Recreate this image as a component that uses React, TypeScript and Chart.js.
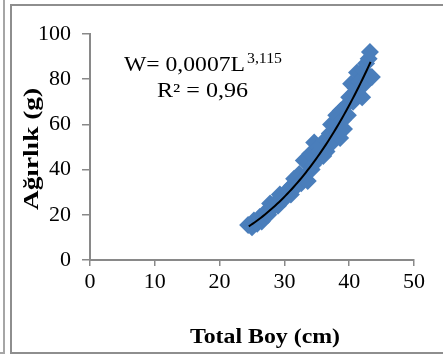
import React, { useEffect, useRef } from "react";
import { Chart, registerables } from "chart.js";

Chart.register(...registerables);

// Total length (cm) and weight (g) of the sampled fish
const lengthCm = [
  24.4, 25.0, 25.3, 25.8, 26.2, 26.5, 26.8, 27.0, 27.5, 27.8, 28.2, 28.8, 29.0,
  29.3, 29.5, 30.0, 30.5, 31.0, 31.2, 31.5, 32.0, 32.3, 32.6, 33.0, 33.0, 33.6,
  34.0, 34.2, 34.4, 34.6, 35.0, 35.2, 35.4, 35.8, 36.0, 36.2, 36.5, 36.8, 37.0,
  37.2, 37.4, 37.8, 38.0, 38.2, 38.6, 38.7, 39.0, 39.2, 39.4, 39.8, 40.0, 40.3,
  40.6, 40.8, 41.0, 41.2, 41.5, 41.8, 42.0, 42.2, 42.4, 42.6, 43.0, 43.2, 43.5,
];
const weightG = [
  15.5, 14.5, 17.5, 16, 19, 17, 18.5, 21, 20, 25, 23, 26, 24,
  29, 27, 27, 31, 29, 33, 36, 33, 38, 34, 36, 44, 35,
  47, 40, 42, 52, 44, 50, 48, 50, 46, 53, 48, 52, 56,
  60, 52, 60, 64, 56, 54, 66, 62, 58, 68, 64, 72, 78,
  70, 74, 76, 83, 79, 80, 72, 84, 78, 87, 89, 92, 81,
];

const xTicks = [0, 10, 20, 30, 40, 50];
const yTicks = [0, 20, 40, 60, 80, 100];

// Power trendline W = a * L^b (Excel)
const trendA = 0.0007;
const trendB = 3.115;
const trendFrom = 24.5;
const trendTo = 43.3;
const trendSteps = 60;

const equationMain = "W= 0,0007L";
const equationExp = "3,115";
const r2Label = "R² = 0,96";
const xTitle = "Total Boy (cm)";
const yTitle = "Ağırlık (g)";

const AXIS = "#898989";
const BLUE = "#4A7EBB";
const SERIF = "'Liberation Serif', 'Times New Roman', serif";

function fitText(
  ctx: CanvasRenderingContext2D,
  text: string,
  font: string,
  x: number,
  y: number,
  width: number,
  align: CanvasTextAlign,
  rotate = 0
) {
  ctx.save();
  ctx.font = font;
  ctx.fillStyle = "#000";
  ctx.textBaseline = "alphabetic";
  ctx.textAlign = align;
  const w = ctx.measureText(text).width;
  ctx.translate(x, y);
  if (rotate) ctx.rotate(rotate);
  ctx.scale(width / w, 1);
  ctx.fillText(text, 0, 0);
  ctx.restore();
}

const textPlugin = {
  id: "texts",
  afterDraw(chart: any) {
    const ctx = chart.ctx as CanvasRenderingContext2D;
    fitText(ctx, equationMain, `20px ${SERIF}`, 124, 71, 121, "left");
    fitText(ctx, equationExp, `14px ${SERIF}`, 247, 63, 35, "left");
    fitText(ctx, r2Label, `20px ${SERIF}`, 157, 97, 91, "left");
    fitText(ctx, xTitle, `bold 20px ${SERIF}`, 265, 343, 150, "center");
    fitText(ctx, yTitle, `bold 20px ${SERIF}`, 38, 149, 122, "center", -Math.PI / 2);
  },
};

export default function App() {
  const ref = useRef<HTMLCanvasElement | null>(null);

  useEffect(() => {
    if (!ref.current) return;
    const trend: { x: number; y: number }[] = [];
    for (let i = 0; i <= trendSteps; i++) {
      const L = trendFrom + ((trendTo - trendFrom) * i) / trendSteps;
      trend.push({ x: L, y: trendA * Math.pow(L, trendB) });
    }
    const points = lengthCm.map((x, i) => ({ x, y: weightG[i] }));

    const tickFont = { family: SERIF, size: 22 };

    const chart = new Chart(ref.current, {
      type: "scatter",
      data: {
        datasets: [
          {
            label: "trend",
            data: trend,
            showLine: true,
            borderColor: "#000",
            borderWidth: 2,
            pointRadius: 0,
            tension: 0,
          } as any,
          {
            label: "data",
            data: points,
            pointStyle: "rectRot",
            pointRadius: 9,
            backgroundColor: BLUE,
            borderColor: BLUE,
            borderWidth: 0,
          } as any,
        ],
      },
      options: {
        animation: false,
        responsive: false,
        devicePixelRatio: 1,
        layout: { padding: { top: 34, right: 29, left: 0, bottom: 0 } },
        plugins: { legend: { display: false }, tooltip: { enabled: false } },
        scales: {
          x: {
            type: "linear",
            min: 0,
            max: 50,
            afterBuildTicks: (s: any) => {
              s.ticks = xTicks.map((v) => ({ value: v }));
            },
            afterFit: (s: any) => {
              s.height = 99;
            },
            grid: {
              drawOnChartArea: false,
              drawTicks: true,
              tickLength: 6,
              color: AXIS,
              lineWidth: 1.5,
            },
            border: { color: AXIS, width: 2 },
            ticks: { font: tickFont, color: "#000", padding: 3, maxRotation: 0 },
          },
          y: {
            type: "linear",
            min: 0,
            max: 100,
            afterBuildTicks: (s: any) => {
              s.ticks = yTicks.map((v) => ({ value: v }));
            },
            afterFit: (s: any) => {
              s.width = 90;
            },
            grid: {
              drawOnChartArea: false,
              drawTicks: true,
              tickLength: 8,
              color: AXIS,
              lineWidth: 1.5,
            },
            border: { color: AXIS, width: 2 },
            ticks: { font: tickFont, color: "#000", padding: 11 },
          },
        },
      } as any,
      plugins: [textPlugin],
    });
    return () => chart.destroy();
  }, []);

  const line = (style: React.CSSProperties) => (
    <div style={{ position: "absolute", background: "#8E8E8E", ...style }} />
  );

  return (
    <div
      style={{
        position: "absolute",
        left: 0,
        top: 0,
        width: 443,
        height: 359,
        background: "#fff",
        overflow: "hidden",
      }}
    >
      <canvas
        ref={ref}
        width={443}
        height={359}
        style={{ position: "absolute", left: 0, top: 0, width: 443, height: 359 }}
      />
      {line({ left: 3, top: 0, width: 2, height: 354, background: "#A6A6A6" })}
      {line({ left: 0, top: 352, width: 5, height: 2, background: "#A6A6A6" })}
      {line({ left: 10, top: 4, width: 2, height: 350 })}
      {line({ left: 10, top: 4, width: 433, height: 2 })}
      {line({ left: 10, top: 352, width: 433, height: 2 })}
    </div>
  );
}
